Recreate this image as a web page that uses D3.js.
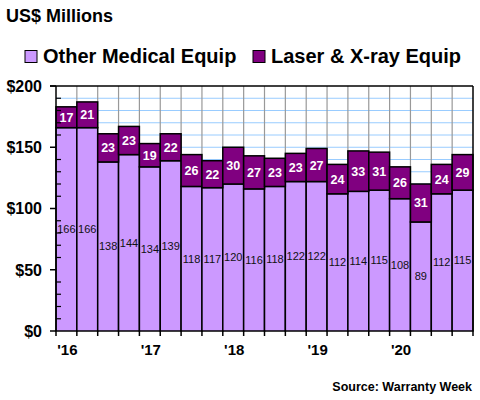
<!DOCTYPE html>
<html><head><meta charset="utf-8">
<script src="https://cdn.jsdelivr.net/npm/d3@7"></script>
<style>body{margin:0;background:#fff}svg{display:block;font-family:"Liberation Sans",Arial,sans-serif}</style>
</head><body><svg id="c" width="480" height="400"></svg>
<script>
const quarters = ["2016Q1","2016Q2","2016Q3","2016Q4","2017Q1","2017Q2","2017Q3","2017Q4","2018Q1","2018Q2","2018Q3","2018Q4","2019Q1","2019Q2","2019Q3","2019Q4","2020Q1","2020Q2","2020Q3","2020Q4"];
const otherMedical = [166,166,138,144,134,139,118,117,120,116,118,122,122,112,114,115,108,89,112,115];
const laserXray = [17,21,23,23,19,22,26,22,30,27,23,23,27,24,33,31,26,31,24,29];
const yearLabels = ["'16","'17","'18","'19","'20"];
const yTicks = [0,50,100,150,200];
const seriesNames = ["Other Medical Equip","Laser & X-ray Equip"];
const colors = ["#cc99ff","#800080"];

const svg = d3.select("#c");
const x = d3.scaleBand().domain(quarters).range([56,473]).padding(0);
const y = d3.scaleLinear().domain([0,200]).range([331,86]);

// grid
const g = svg.append("g");
g.selectAll("line.h").data(d3.range(10,200,10)).join("line")
  .attr("x1",56).attr("x2",473).attr("y1",d=>y(d)).attr("y2",d=>y(d))
  .attr("stroke","#99ccff").attr("stroke-width",1);
g.selectAll("line.v").data(quarters.slice(1)).join("line")
  .attr("x1",d=>x(d)).attr("x2",d=>x(d)).attr("y1",86).attr("y2",331)
  .attr("stroke","#999").attr("stroke-width",1.2);

// stacked bars
const data = quarters.map((q,i)=>({q, o:otherMedical[i], l:laserXray[i]}));
const bars = svg.append("g");
bars.selectAll("rect.o").data(data).join("rect")
  .attr("x",d=>x(d.q)).attr("width",x.bandwidth())
  .attr("y",d=>y(d.o)).attr("height",d=>y(0)-y(d.o))
  .attr("fill",colors[0]).attr("stroke","#000").attr("stroke-width",1.5);
bars.selectAll("rect.l").data(data).join("rect")
  .attr("x",d=>x(d.q)).attr("width",x.bandwidth())
  .attr("y",d=>y(d.o+d.l)).attr("height",d=>y(d.o)-y(d.o+d.l))
  .attr("fill",colors[1]).attr("stroke","#000").attr("stroke-width",1.5);

// labels
bars.selectAll("text.o").data(data).join("text")
  .attr("x",d=>x(d.q)+x.bandwidth()/2).attr("y",d=>y(d.o/2))
  .attr("dy","0.35em").attr("text-anchor","middle")
  .attr("font-size","11px").attr("fill","#111").text(d=>d.o);
bars.selectAll("text.l").data(data).join("text")
  .attr("x",d=>x(d.q)+x.bandwidth()/2).attr("y",d=>y(d.o+d.l/2))
  .attr("dy","0.36em").attr("text-anchor","middle")
  .attr("font-size","12.5px").attr("font-weight","bold").attr("fill","#fff").text(d=>d.l);

// frame
svg.append("line").attr("x1",50).attr("x2",473).attr("y1",y(200)).attr("y2",y(200)).attr("stroke","#000").attr("stroke-width",1.5);
svg.append("line").attr("x1",473).attr("x2",473).attr("y1",86).attr("y2",331).attr("stroke","#000").attr("stroke-width",1.5);

// y axis
const ya = svg.append("g");
ya.append("line").attr("x1",56).attr("x2",56).attr("y1",86).attr("y2",331).attr("stroke","#000").attr("stroke-width",1.5);
ya.selectAll("line.mi").data(d3.range(10,200,10).filter(v=>v%50)).join("line")
  .attr("x1",56).attr("x2",61).attr("y1",d=>y(d)).attr("y2",d=>y(d)).attr("stroke","#000").attr("stroke-width",1.2);
ya.selectAll("line.ma").data(yTicks).join("line")
  .attr("x1",50).attr("x2",56).attr("y1",d=>y(d)).attr("y2",d=>y(d)).attr("stroke","#000").attr("stroke-width",1.5);
ya.selectAll("text").data(yTicks).join("text")
  .attr("x",42).attr("y",d=>y(d)).attr("dy","0.36em").attr("text-anchor","end")
  .attr("font-size","16px").attr("font-weight","bold").text(d=>"$"+d);

// x axis
const xa = svg.append("g");
xa.append("line").attr("x1",56).attr("x2",473).attr("y1",331).attr("y2",331).attr("stroke","#000").attr("stroke-width",1.5);
xa.selectAll("line").data(quarters.concat(["end"])).join("line")
  .attr("x1",(d,i)=>56+i*x.step()).attr("x2",(d,i)=>56+i*x.step())
  .attr("y1",331).attr("y2",336).attr("stroke","#000").attr("stroke-width",1.5);
xa.selectAll("text").data(yearLabels).join("text")
  .attr("x",(d,i)=>x(quarters[i*4])+x.bandwidth()/2+1).attr("y",355)
  .attr("text-anchor","middle").attr("font-size","15px").attr("font-weight","bold").text(d=>d);

// title
svg.append("text").attr("x",6).attr("y",22).attr("font-size","18px").attr("font-weight","bold").text("US$ Millions");

// legend
const lg = svg.append("g");
const lx = [25,253];
seriesNames.forEach((n,i)=>{
  lg.append("rect").attr("x",lx[i]).attr("y",50.5).attr("width",12).attr("height",12)
    .attr("fill",colors[i]).attr("stroke","#000").attr("stroke-width",1);
  lg.append("text").attr("x",lx[i]+18).attr("y",63).attr("font-size","20px").attr("font-weight","bold").text(n);
});

// source
svg.append("text").attr("x",472).attr("y",391).attr("text-anchor","end")
  .attr("font-size","12.5px").attr("font-weight","bold").text("Source: Warranty Week");
</script></body></html>
